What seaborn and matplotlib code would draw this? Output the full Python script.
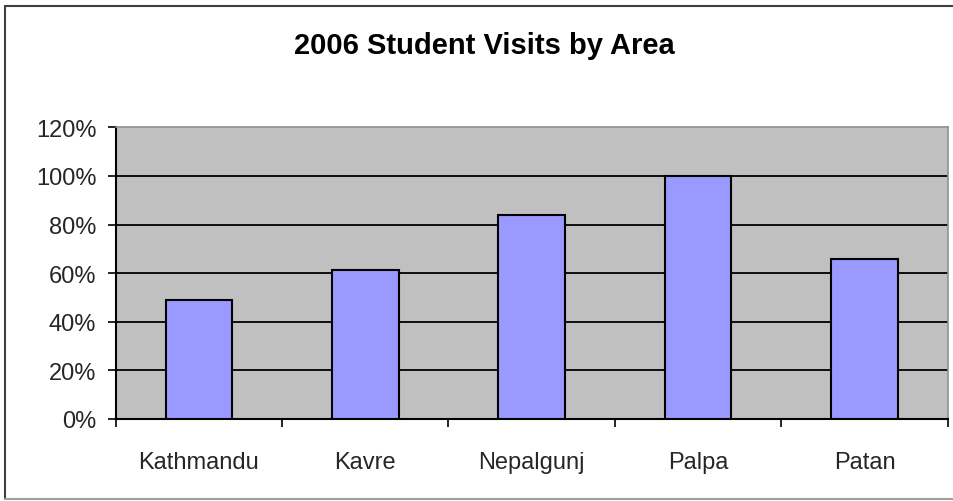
import matplotlib
matplotlib.use("Agg")
import matplotlib.pyplot as plt
import seaborn as sns
import pandas as pd
from matplotlib.ticker import FixedLocator, FuncFormatter
from matplotlib.lines import Line2D

areas = ["Kathmandu", "Kavre", "Nepalgunj", "Palpa", "Patan"]
visits = [49, 61.5, 84, 100, 66]
y_ticks = [0, 20, 40, 60, 80, 100, 120]
title = "2006 Student Visits by Area"

df = pd.DataFrame({"area": areas, "visits": visits})

sns.set_theme(style="white")
plt.rcParams["font.family"] = ["Liberation Sans", "DejaVu Sans"]

fig = plt.figure(figsize=(9.54, 5.02), dpi=100)
ax = fig.add_axes([115.7 / 954, 82 / 502, (947.7 - 115.7) / 954, (420 - 128.3) / 502])
ax.set_facecolor("#C0C0C0")

sns.barplot(data=df, x="area", y="visits", color="#9999FF", width=0.4,
            edgecolor="black", linewidth=1.5, saturation=1, ax=ax, zorder=3)

ax.set_ylim(0, 120)
ax.set_xlim(-0.5, len(areas) - 0.5)
ax.yaxis.set_major_locator(FixedLocator(y_ticks))
ax.yaxis.set_major_formatter(FuncFormatter(lambda v, p: f"{int(v)}%"))
for v in y_ticks[1:-1]:
    ax.axhline(v, color="black", linewidth=1.3, zorder=1)

ax.set_xlabel("")
ax.set_ylabel("")
ax.tick_params(axis="y", which="major", direction="out", length=6, width=1.2,
               color="black", labelsize=17, pad=8, left=True)
ax.tick_params(axis="x", which="major", length=0, labelsize=17, pad=23)
ax.xaxis.set_minor_locator(FixedLocator([i - 0.5 for i in range(len(areas) + 1)]))
ax.tick_params(axis="x", which="minor", direction="out", length=6, width=1.2,
               color="black", bottom=True)

for s in ["left", "bottom"]:
    ax.spines[s].set_color("black")
    ax.spines[s].set_linewidth(1.5)
for s in ["top", "right"]:
    ax.spines[s].set_color("#909090")
    ax.spines[s].set_linewidth(1.2)
    ax.spines[s].set_visible(True)

fig.text(484 / 954, 1 - 46 / 502, title, ha="center", va="center",
         fontsize=21, fontweight="bold", color="black")

# outer chart frame
fig.add_artist(Line2D([5 / 954, 5 / 954], [1 - 7 / 502, 1 - 500 / 502],
                      transform=fig.transFigure, color="#404040", linewidth=1.5))
fig.add_artist(Line2D([5 / 954, 1.0], [1 - 7 / 502, 1 - 7 / 502],
                      transform=fig.transFigure, color="#404040", linewidth=1.5))
fig.add_artist(Line2D([5 / 954, 1.0], [1 - 500 / 502, 1 - 500 / 502],
                      transform=fig.transFigure, color="#A0A0A0", linewidth=1.5))

fig.savefig("out.png", dpi=100, facecolor="white")
